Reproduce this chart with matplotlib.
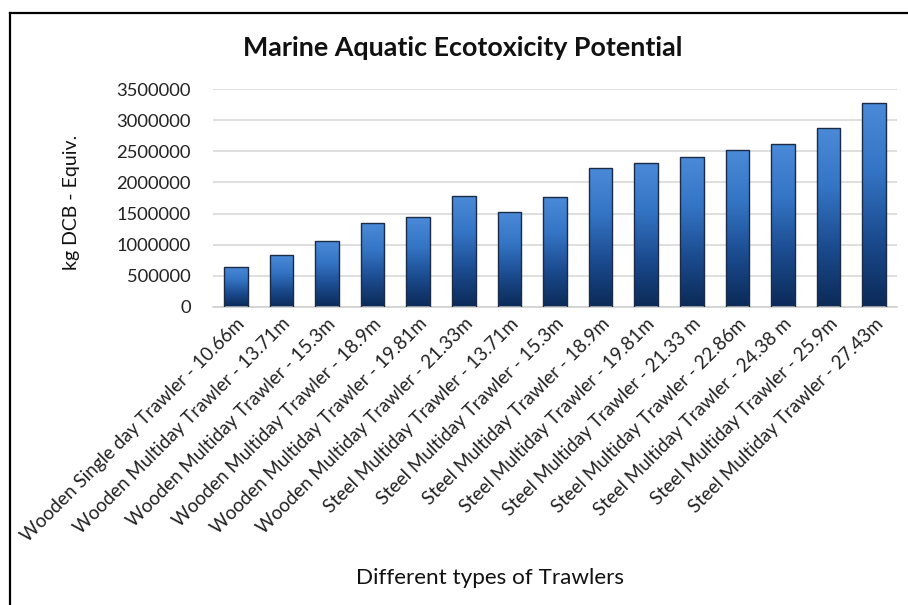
import matplotlib
matplotlib.use("Agg")
import matplotlib.pyplot as plt
import numpy as np
from matplotlib.colors import LinearSegmentedColormap
from matplotlib.lines import Line2D

categories = [
    "Wooden Single day Trawler - 10.66m",
    "Wooden Multiday Trawler - 13.71m",
    "Wooden Multiday Trawler - 15.3m",
    "Wooden Multiday Trawler - 18.9m",
    "Wooden Multiday Trawler - 19.81m",
    "Wooden Multiday Trawler - 21.33m",
    "Steel Multiday Trawler - 13.71m",
    "Steel Multiday Trawler - 15.3m",
    "Steel Multiday Trawler - 18.9m",
    "Steel Multiday Trawler - 19.81m",
    "Steel Multiday Trawler - 21.33 m",
    "Steel Multiday Trawler - 22.86m",
    "Steel Multiday Trawler - 24.38 m",
    "Steel Multiday Trawler - 25.9m",
    "Steel Multiday Trawler - 27.43m",
]
values = [644000, 832000, 1053000, 1352000, 1439000, 1787000, 1520000, 1761000,
          2228000, 2313000, 2410000, 2522000, 2624000, 2877000, 3274000]
yticks = [0, 500000, 1000000, 1500000, 2000000, 2500000, 3000000, 3500000]

plt.rcParams['font.family'] = ['Lato', 'DejaVu Sans']

W, H = 908, 605
fig = plt.figure(figsize=(W / 100, H / 100), dpi=100)
ax = fig.add_axes([213 / W, 1 - 306.7 / H, (897 - 213) / W, (306.7 - 89.3) / H])

x = np.arange(len(categories))
bars = ax.bar(x, values, width=0.52, color='none', edgecolor='#1b2b45', linewidth=1.0, zorder=3)

cmap = LinearSegmentedColormap.from_list('g', ['#0b2a57', '#1b4b8f', '#3474c4', '#4a8ad8'])
grad = np.linspace(0, 1, 256).reshape(-1, 1)
for b in bars:
    x0, w, h = b.get_x(), b.get_width(), b.get_height()
    im = ax.imshow(grad, cmap=cmap, origin='lower', aspect='auto',
                   extent=[x0, x0 + w, 0, h], zorder=2, interpolation='bicubic')
    im.set_clip_path(b)

ax.set_xlim(-0.5, len(categories) - 0.5)
ax.set_ylim(0, 3500000)
ax.set_yticks(yticks)
ax.set_yticklabels([str(v) for v in yticks], fontsize=13.2, color='#222222')
ax.yaxis.grid(True, color='#d9d9d9', linewidth=1.2, zorder=0)
ax.set_axisbelow(True)
for s in ['top', 'right', 'left']:
    ax.spines[s].set_visible(False)
ax.spines['bottom'].set_color('#d0d0d0')
ax.spines['bottom'].set_linewidth(1.2)
ax.tick_params(axis='both', length=0)
ax.tick_params(axis='y', pad=16)

ax.set_xticks(x)
ax.set_xticklabels(categories, rotation=45, ha='right', rotation_mode='anchor',
                   fontsize=13.5, color='#222222')
ax.tick_params(axis='x', pad=6)

fig.text(463 / W, 1 - 48 / H, "Marine Aquatic Ecotoxicity Potential", fontsize=19.4,
         fontweight='bold', color='#111111', ha='center', va='center')
fig.text(72 / W, 1 - 202 / H, "kg DCB - Equiv.", rotation=90, ha='center', va='center',
         fontsize=14, color='#111111')
fig.text(490 / W, 1 - 578 / H, "Different types of Trawlers", ha='center', va='center',
         fontsize=16.2, color='#111111')

fig.add_artist(Line2D([10 / W, 10 / W], [0, 1 - 13 / H], transform=fig.transFigure,
                      color='black', linewidth=1.6))
fig.add_artist(Line2D([10 / W, 1], [1 - 13 / H, 1 - 13 / H], transform=fig.transFigure,
                      color='black', linewidth=1.6))

fig.savefig("out.png", dpi=100)
